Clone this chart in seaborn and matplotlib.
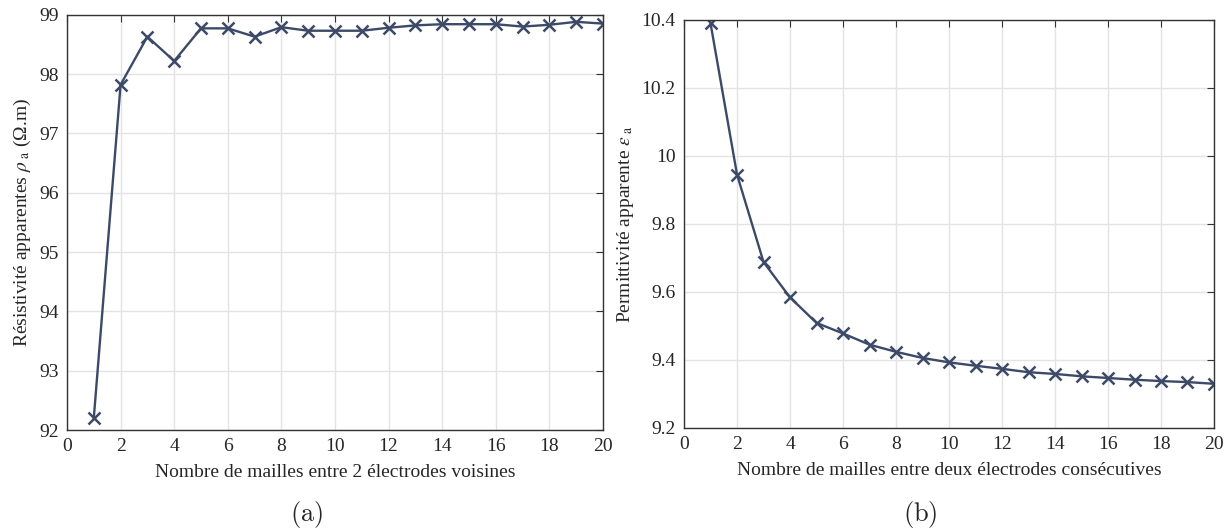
import matplotlib
matplotlib.use('Agg')
import matplotlib.pyplot as plt
import seaborn as sns

# mailles entre électrodes
n_mailles = list(range(1, 21))

# (a) résistivité apparente (Ohm.m)
rho_a = [92.20, 97.82, 98.63, 98.22, 98.77, 98.77, 98.63, 98.79, 98.73, 98.73,
         98.73, 98.78, 98.82, 98.84, 98.84, 98.84, 98.80, 98.83, 98.88, 98.85]

# (b) permittivité apparente
eps_a = [10.39, 9.945, 9.688, 9.584, 9.509, 9.478, 9.445, 9.424, 9.406, 9.393,
         9.383, 9.374, 9.364, 9.359, 9.352, 9.347, 9.342, 9.338, 9.335, 9.330]

sns.set_style('whitegrid')
plt.rcParams['font.family'] = ['Liberation Serif', 'DejaVu Serif']
plt.rcParams['mathtext.fontset'] = 'stix'

couleur = '#3c4a68'

fig = plt.figure(figsize=(12.27, 5.31), dpi=100)
ax1 = fig.add_axes([0.0546, 0.1902, 0.4368, 0.7821])
ax2 = fig.add_axes([0.5575, 0.194, 0.4319, 0.7684])

sns.lineplot(x=n_mailles, y=rho_a, marker='x', color=couleur, linewidth=1.7,
             markersize=8, markeredgewidth=1.8, markeredgecolor=couleur, ax=ax1)
sns.lineplot(x=n_mailles, y=eps_a, marker='x', color=couleur, linewidth=1.7,
             markersize=8, markeredgewidth=1.8, markeredgecolor=couleur, ax=ax2)

# mise en forme des axes
for ax in (ax1, ax2):
    ax.set_xlim(0, 20)
    ax.set_xticks(range(0, 21, 2))
    ax.grid(True, color='#e3e3e3', linewidth=1)
    ax.tick_params(direction='in', top=True, right=True, length=5,
                   color='#333333', labelsize=14, pad=6)
    for s in ax.spines.values():
        s.set_color('#333333')
        s.set_linewidth(1)
    ax.set_axisbelow(True)

ax1.set_ylim(92, 99)
ax1.set_yticks(range(92, 100))
ax1.set_xlabel('Nombre de mailles entre 2 électrodes voisines', fontsize=14, labelpad=6)
ax1.set_ylabel(r'Résistivité apparentes $\rho_{\ \mathrm{a}}$ (Ω.m)', fontsize=14)

ax2.set_ylim(9.2, 10.4)
ax2.set_yticks([9.2, 9.4, 9.6, 9.8, 10.0, 10.2, 10.4])
ax2.set_yticklabels(['9.2', '9.4', '9.6', '9.8', '10', '10.2', '10.4'])
ax2.set_xlabel('Nombre de mailles entre deux électrodes consécutives', fontsize=14, labelpad=6)
ax2.set_ylabel(r'Permittivité apparente $\epsilon_{\ \mathrm{a}}$', fontsize=14)

fig.text(307 / 1227, 1 - 515 / 531, r'$\mathrm{(a)}$', ha='center', va='center',
         fontsize=19, math_fontfamily='cm')
fig.text(920 / 1227, 1 - 515 / 531, r'$\mathrm{(b)}$', ha='center', va='center',
         fontsize=19, math_fontfamily='cm')

fig.savefig('out.png', dpi=100)
